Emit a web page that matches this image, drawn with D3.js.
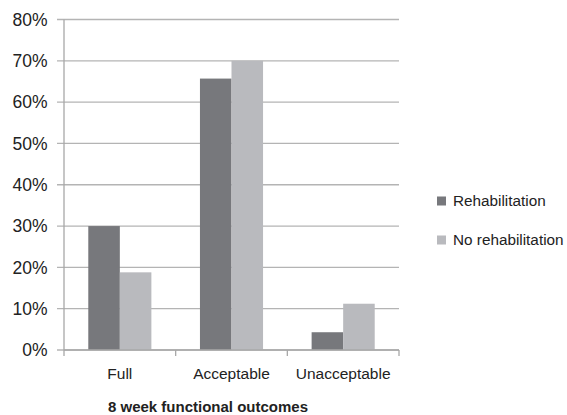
<!DOCTYPE html>
<html>
<head>
<meta charset="utf-8">
<script src="https://cdn.jsdelivr.net/npm/d3@7/dist/d3.min.js"></script>
<style>
  html, body { margin: 0; padding: 0; background: #fff; }
  svg { display: block; font-family: "Liberation Sans", Arial, sans-serif; }
</style>
</head>
<body>
<svg id="chart" width="567" height="415"></svg>
<script>
// Outcome categories and the share of patients in each, per group (percent)
const categories = ["Full", "Acceptable", "Unacceptable"];
const seriesNames = ["Rehabilitation", "No rehabilitation"];
const rehabilitation = [30, 65.7, 4.3];
const noRehabilitation = [18.8, 70, 11.2];
const yTicks = [0, 10, 20, 30, 40, 50, 60, 70, 80];
const xTitle = "8 week functional outcomes";

const colors = ["#77787c", "#b9babe"];
const seriesValues = [rehabilitation, noRehabilitation];

const svg = d3.select("#chart");
const plot = { left: 64, right: 399, top: 19.5, bottom: 350 };

const y = d3.scaleLinear().domain([0, 80]).range([plot.bottom, plot.top]);
const x = d3.scaleBand().domain(categories).range([plot.left, plot.right]).padding(0);
const inner = d3.scaleBand().domain(seriesNames)
  .range([0, x.bandwidth()]).paddingInner(0).paddingOuter(0.77);

// horizontal gridlines with short ticks left of the axis
svg.append("g").selectAll("line").data(yTicks).join("line")
  .attr("x1", plot.left - 7).attr("x2", plot.right)
  .attr("y1", d => y(d)).attr("y2", d => y(d))
  .attr("stroke", "#b4b4b4").attr("stroke-width", 1.3);

// y tick labels
svg.append("g").selectAll("text").data(yTicks).join("text")
  .attr("x", 47.5).attr("y", d => y(d)).attr("dy", "0.35em")
  .attr("text-anchor", "end").attr("font-size", 17.5).attr("fill", "#222")
  .text(d => d + "%");

// bars
const groups = svg.append("g").selectAll("g").data(categories).join("g")
  .attr("transform", d => `translate(${x(d)},0)`);
groups.selectAll("rect")
  .data((c, i) => seriesNames.map((s, k) => ({ s, k, v: seriesValues[k][i] })))
  .join("rect")
  .attr("x", d => inner(d.s))
  .attr("width", inner.bandwidth())
  .attr("y", d => y(d.v))
  .attr("height", d => y(0) - y(d.v))
  .attr("fill", d => colors[d.k]);

// axes lines
svg.append("line")
  .attr("x1", plot.left).attr("x2", plot.left)
  .attr("y1", plot.top).attr("y2", plot.bottom)
  .attr("stroke", "#a8a8a8").attr("stroke-width", 1.3);
svg.append("line")
  .attr("x1", plot.left).attr("x2", plot.right)
  .attr("y1", plot.bottom).attr("y2", plot.bottom)
  .attr("stroke", "#a8a8a8").attr("stroke-width", 1.3);

// category boundary ticks
const bounds = categories.map(c => x(c)).concat([plot.right]);
svg.append("g").selectAll("line").data(bounds).join("line")
  .attr("x1", d => d).attr("x2", d => d)
  .attr("y1", plot.bottom).attr("y2", plot.bottom + 6)
  .attr("stroke", "#a8a8a8").attr("stroke-width", 1.3);

// category labels
svg.append("g").selectAll("text").data(categories).join("text")
  .attr("x", d => x(d) + x.bandwidth() / 2).attr("y", 374).attr("dy", "0.35em")
  .attr("text-anchor", "middle").attr("font-size", 15.5).attr("fill", "#222")
  .text(d => d);

// axis title
svg.append("text")
  .attr("x", 108).attr("y", 411.5)
  .attr("font-size", 15).attr("font-weight", "bold").attr("fill", "#222")
  .text(xTitle);

// legend
const legend = svg.append("g").selectAll("g").data(seriesNames).join("g")
  .attr("transform", (d, i) => `translate(437,${201 + i * 39})`);
legend.append("rect")
  .attr("x", 0).attr("y", -4.5).attr("width", 9).attr("height", 9)
  .attr("fill", (d, i) => colors[i]);
legend.append("text")
  .attr("x", 16).attr("y", 0).attr("dy", "0.35em")
  .attr("font-size", 15.3).attr("fill", "#222")
  .text(d => d);
</script>
</body>
</html>
